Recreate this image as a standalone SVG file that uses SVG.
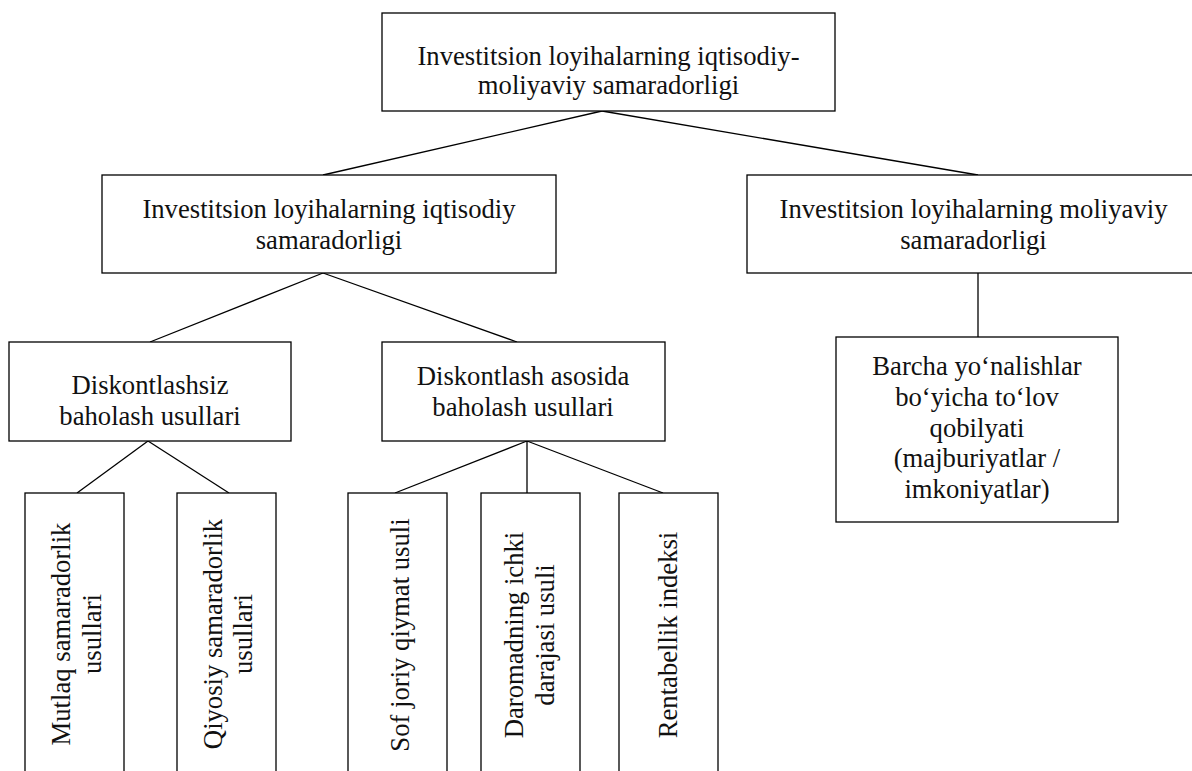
<svg xmlns="http://www.w3.org/2000/svg" width="1192" height="771" viewBox="0 0 1192 771">
<style>
.box{fill:#fff;stroke:#000;stroke-width:1.3}
.t{font-family:"Liberation Serif","Times New Roman",serif;font-size:26.67px;fill:#111;text-anchor:middle}
.c line{stroke:#000;stroke-width:1.3}
</style>
<rect width="1192" height="771" fill="#fff"/>
<g class="c" id="connectors">
<line x1="602" y1="111" x2="323" y2="175"/>
<line x1="602" y1="111" x2="978" y2="175"/>
<line x1="978" y1="273" x2="978" y2="337"/>
<line x1="323" y1="273" x2="150" y2="342"/>
<line x1="323" y1="273" x2="517" y2="342"/>
<line x1="148" y1="441" x2="77" y2="493"/>
<line x1="148" y1="441" x2="229" y2="493"/>
<line x1="527" y1="441" x2="395" y2="493"/>
<line x1="527" y1="441" x2="527" y2="493"/>
<line x1="527" y1="441" x2="663" y2="493"/>
</g>
<g id="n-top">
<rect class="box" x="382" y="13" width="453" height="98"/>
<text class="t" x="608.5" y="65">Investitsion loyihalarning iqtisodiy-</text>
<text class="t" x="608.5" y="93.5">moliyaviy samaradorligi</text>
</g>
<g id="n-iqtisodiy">
<rect class="box" x="102" y="175" width="454" height="98"/>
<text class="t" x="329" y="218">Investitsion loyihalarning iqtisodiy</text>
<text class="t" x="329" y="248.5">samaradorligi</text>
</g>
<g id="n-moliyaviy">
<rect class="box" x="747" y="175" width="460" height="98"/>
<text class="t" x="973.5" y="218">Investitsion loyihalarning moliyaviy</text>
<text class="t" x="973.5" y="249">samaradorligi</text>
</g>
<g id="n-barcha">
<rect class="box" x="836" y="337" width="282" height="185"/>
<text class="t" x="977" y="375">Barcha yo‘nalishlar</text>
<text class="t" x="977" y="405.75">bo‘yicha to‘lov</text>
<text class="t" x="977" y="436.5">qobilyati</text>
<text class="t" x="977" y="467.25">(majburiyatlar /</text>
<text class="t" x="977" y="498">imkoniyatlar)</text>
</g>
<g id="n-diskontlashsiz">
<rect class="box" x="9" y="342" width="282" height="99"/>
<text class="t" x="150" y="394">Diskontlashsiz</text>
<text class="t" x="150" y="425">baholash usullari</text>
</g>
<g id="n-diskontlash">
<rect class="box" x="382" y="342" width="283" height="99"/>
<text class="t" x="523" y="385">Diskontlash asosida</text>
<text class="t" x="523" y="416">baholash usullari</text>
</g>
<g id="n-mutlaq">
<rect class="box" x="25" y="493" width="99" height="300"/>
<text class="t" transform="translate(70 634) rotate(-90)">Mutlaq samaradorlik</text>
<text class="t" transform="translate(100.5 634) rotate(-90)">usullari</text>
</g>
<g id="n-qiyosiy">
<rect class="box" x="177" y="493" width="99" height="300"/>
<text class="t" transform="translate(221.5 634) rotate(-90)">Qiyosiy samaradorlik</text>
<text class="t" transform="translate(252 634) rotate(-90)">usullari</text>
</g>
<g id="n-sof">
<rect class="box" x="348" y="493" width="99" height="300"/>
<text class="t" transform="translate(409 635) rotate(-90)">Sof joriy qiymat usuli</text>
</g>
<g id="n-daromad">
<rect class="box" x="481" y="493" width="99" height="300"/>
<text class="t" transform="translate(523 635) rotate(-90)">Daromadning ichki</text>
<text class="t" transform="translate(554 635) rotate(-90)">darajasi usuli</text>
</g>
<g id="n-rentabellik">
<rect class="box" x="619" y="493" width="99" height="300"/>
<text class="t" transform="translate(677 635) rotate(-90)">Rentabellik indeksi</text>
</g>
</svg>
